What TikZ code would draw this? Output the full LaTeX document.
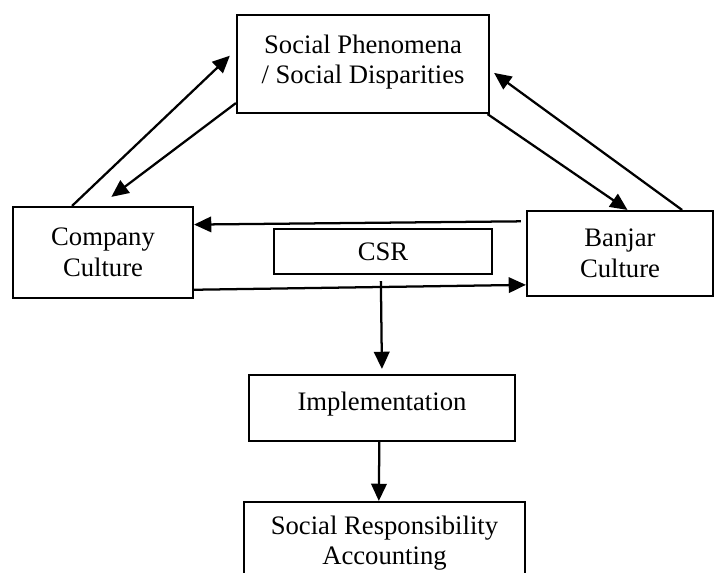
\documentclass[tikz,border=0pt]{standalone}
\usepackage{fontspec}
\setmainfont{Liberation Serif}
\usetikzlibrary{arrows.meta,calc}

\begin{document}
\begin{tikzpicture}[x=0.465pt,y=-0.465pt]
\tikzstyle{every node}=[draw,line width=1pt,shape=rectangle,align=center,font=\fontsize{12.4}{14.2}\selectfont];
\tikzstyle{link}=[line width=1.05pt,-{Triangle[length=8pt,width=7.2pt]}];
\useasboundingbox (0,0) rectangle (717,573);
\clip (0,0) rectangle (717,573);
\node[minimum width=117.2pt,minimum height=45.6pt,text depth=4.5pt] (social) at (363,64) {Social Phenomena\\/ Social Disparities};
\node[minimum width=83.7pt,minimum height=42.3pt] (company) at (103,252.5) {Company\\Culture};
\node[minimum width=86.5pt,minimum height=39.5pt] (banjar) at (620,253.5) {Banjar\\Culture};
\node[minimum width=101.4pt,minimum height=20.9pt] (csr) at (383,251.5) {CSR};
\node[minimum width=123.7pt,minimum height=30.7pt,text depth=6.5pt] (impl) at (382,408) {Implementation};
\node[minimum width=130.7pt,minimum height=38.1pt] (sra) at (384.5,543) {Social Responsibility\\Accounting};
% triangle links
\draw[link,shorten >=3.9pt] ($(company.north west)!0.33!(company.north east)$) -- ($(social.north west)!0.36!(social.south west)$);
\draw[link,shorten >=7pt] ($(social.north west)!0.89!(social.south west)$) -- ($(company.north west)!0.48!(company.north east)$);
\draw[link] ($(social.south west)!0.99!(social.south east)$) -- ($(banjar.north west)!0.54!(banjar.north east)$);
\draw[link,shorten >=2.3pt] ($(banjar.north west)!0.83!(banjar.north east)$) -- ($(social.north east)!0.56!(social.south east)$);
\draw[link,shorten <=2.3pt] ($(banjar.north west)!0.13!(banjar.south west)$) -- ($(company.north east)!0.2!(company.south east)$);
\draw[link] ($(company.north east)!0.9!(company.south east)$) -- ($(banjar.north west)!0.86!(banjar.south west)$);
% down the middle
\draw[link,shorten <=2.8pt,shorten >=2.3pt] ($(csr.south west)!0.49!(csr.south east)$) -- ($(impl.north west)!0.5!(impl.north east)$);
\draw[link] ($(impl.south west)!0.49!(impl.south east)$) -- ($(sra.north west)!0.48!(sra.north east)$);
\end{tikzpicture}
\end{document}
